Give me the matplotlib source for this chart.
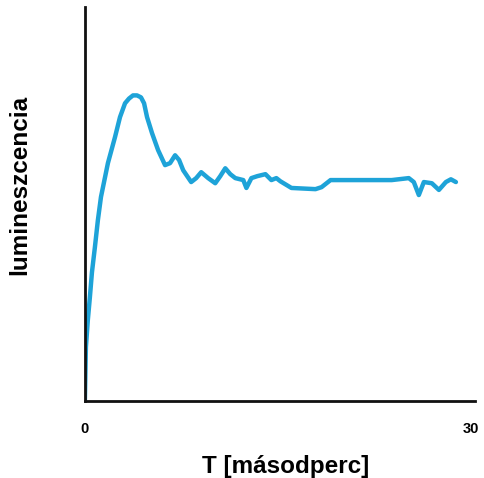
import matplotlib.pyplot as plt

# lumineszcencia görbe (idő másodpercben, intenzitás tetszőleges egységben)
t = [0, 0.08, 0.23, 0.39, 0.55, 0.78, 1.01, 1.25, 1.79, 2.34, 2.73, 3.12,
     3.43, 3.74, 4.05, 4.36, 4.60, 4.83, 5.22, 5.69, 6.23, 6.62, 7.01, 7.32,
     7.64, 8.26, 8.65, 9.04, 9.58, 10.13, 10.52, 10.91, 11.30, 11.69, 12.31,
     12.55, 12.94, 13.40, 14.03, 14.49, 14.88, 15.19, 16.05, 17.92, 18.39,
     19.09, 20.49, 23.84, 25.17, 25.56, 25.95, 26.34, 26.96, 27.51, 28.05,
     28.44, 28.83]
lum = [0, 13.7, 20.6, 26.4, 32.7, 39.1, 45.9, 51.8, 60.4, 67.0, 72.1, 75.6,
       76.8, 77.6, 77.6, 77.1, 75.6, 72.1, 68.0, 63.7, 59.9, 60.4, 62.4, 61.2,
       58.6, 55.6, 56.6, 58.1, 56.6, 55.3, 57.1, 59.1, 57.6, 56.6, 56.1,
       54.1, 56.6, 57.1, 57.6, 56.1, 56.6, 55.8, 54.1, 53.8, 54.3,
       56.1, 56.1, 56.1, 56.6, 55.6, 52.3, 55.6, 55.3, 53.6, 55.6,
       56.3, 55.6]

xticks = [0, 30]
xticklabels = ["0", "30"]

plt.rcParams['font.family'] = ['Liberation Sans', 'DejaVu Sans']

fig = plt.figure(figsize=(4.85, 4.78), dpi=100)
ax = fig.add_axes([0.175, 0.161, 0.804, 0.824])

ax.plot(t, lum, color='#1ea3d8', lw=3.2, solid_capstyle='round',
        solid_joinstyle='round')

ax.set_xlim(0, 30.3)
ax.set_ylim(0, 100)

for s in ['top', 'right']:
    ax.spines[s].set_visible(False)
for s in ['left', 'bottom']:
    ax.spines[s].set_linewidth(2.0)
    ax.spines[s].set_color('#111111')

ax.set_yticks([])
ax.set_xticks(xticks)
ax.set_xticklabels(xticklabels, fontweight='bold', fontsize=10.5)
ax.tick_params(axis='x', length=0, pad=15)

ax.set_xlabel('T [másodperc]', fontweight='bold', fontsize=17.5, va='center')
ax.xaxis.set_label_coords(0.515, -0.166)
ax.set_ylabel('lumineszcencia', fontweight='bold', fontsize=17.5, va='center')
ax.yaxis.set_label_coords(-0.168, 0.548)

fig.savefig('out.png', dpi=100)
